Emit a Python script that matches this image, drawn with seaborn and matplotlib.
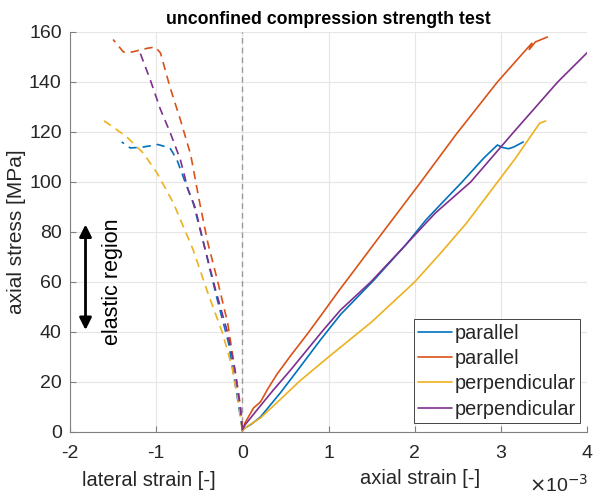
import matplotlib
matplotlib.use("Agg")
import matplotlib.pyplot as plt
import seaborn as sns
import numpy as np
from matplotlib.lines import Line2D

# ---------------- data (strain in units of 1e-3, stress in MPa) ----------------
# axial (solid) curves
ax_blue_x = [0, 0.03, 0.10, 0.21, 0.44, 0.67, 0.91, 1.14, 1.52, 1.90, 2.13, 2.30, 2.55, 2.80, 2.96, 3.02, 3.09, 3.15, 3.26]
ax_blue_y = [0.5, 1.6, 3.0, 6.0, 15.6, 26.0, 37.0, 47.0, 60.5, 75.0, 84.8, 91.0, 100.0, 109.5, 114.8, 113.8, 113.3, 114.0, 116.0]

ax_orange_x = [0, 0.03, 0.13, 0.21, 0.30, 0.40, 0.56, 0.75, 0.91, 1.12, 1.35, 1.60, 2.05, 2.48, 2.96, 3.31, 3.36, 3.33, 3.40, 3.54]
ax_orange_y = [0.5, 3.6, 9.6, 12.0, 17.5, 23.0, 30.5, 39.0, 46.5, 56.5, 67.0, 78.5, 99.0, 119.0, 140.0, 153.6, 155.5, 153.0, 156.0, 158.0]

ax_yellow_x = [0, 0.03, 0.21, 0.44, 0.67, 1.00, 1.50, 2.00, 2.30, 2.60, 2.94, 3.17, 3.37, 3.45, 3.52]
ax_yellow_y = [0.5, 1.6, 5.6, 13.0, 20.5, 30.0, 44.0, 60.0, 71.5, 83.5, 99.0, 109.5, 119.5, 123.5, 124.4]

ax_purple_x = [0, 0.03, 0.17, 0.36, 0.56, 0.75, 0.94, 1.14, 1.49, 1.84, 2.24, 2.65, 3.15, 3.66, 4.01]
ax_purple_y = [1.0, 2.8, 8.8, 16.8, 24.8, 32.8, 40.8, 48.8, 60.0, 72.8, 87.6, 100.0, 120.0, 140.0, 152.0]

# lateral (dashed) curves
lat_blue_x = [0, -0.05, -0.16, -0.29, -0.45, -0.57, -0.66, -0.76, -0.84, -0.98, -1.15, -1.30, -1.40]
lat_blue_y = [1.0, 12.0, 35.6, 52.8, 75.6, 91.6, 99.6, 109.0, 113.6, 115.0, 114.0, 113.6, 116.0]

lat_orange_x = [0, -0.02, -0.08, -0.17, -0.29, -0.40, -0.49, -0.60, -0.72, -0.84, -0.95, -1.01, -1.10, -1.28, -1.38, -1.50]
lat_orange_y = [1.0, 10.0, 23.6, 43.6, 60.8, 75.6, 90.8, 111.0, 125.0, 138.0, 151.6, 154.0, 153.5, 152.0, 152.0, 157.0]

lat_yellow_x = [0, -0.05, -0.12, -0.23, -0.40, -0.57, -0.80, -0.99, -1.15, -1.34, -1.50, -1.63]
lat_yellow_y = [0.5, 12.8, 26.0, 39.6, 55.6, 72.8, 91.6, 103.6, 111.6, 118.0, 122.0, 125.0]

lat_purple_x = [0, -0.02, -0.08, -0.17, -0.31, -0.45, -0.55, -0.63, -0.72, -0.84, -0.95, -1.07, -1.19]
lat_purple_y = [1.0, 8.8, 23.6, 39.6, 56.8, 75.6, 90.0, 97.0, 109.0, 120.0, 129.0, 141.0, 152.0]

legend_labels = ["parallel", "parallel", "perpendicular", "perpendicular"]
colors = ["#0072BD", "#D95319", "#EDB120", "#7E2F8E"]

x_ticks = [-2, -1, 0, 1, 2, 3, 4]
y_ticks = [0, 20, 40, 60, 80, 100, 120, 140, 160]

# ---------------- style ----------------
sns.set_style("ticks")
plt.rcParams["font.family"] = ["Liberation Sans", "DejaVu Sans"]
plt.rcParams["axes.unicode_minus"] = False

W, H = 593, 495
fig = plt.figure(figsize=(W / 100, H / 100), dpi=100)
ax = fig.add_axes([70 / W, 1 - 432 / H, (587 - 70) / W, (432 - 32) / H])

axial = [(ax_blue_x, ax_blue_y), (ax_orange_x, ax_orange_y),
         (ax_yellow_x, ax_yellow_y), (ax_purple_x, ax_purple_y)]
lateral = [(lat_blue_x, lat_blue_y), (lat_orange_x, lat_orange_y),
           (lat_yellow_x, lat_yellow_y), (lat_purple_x, lat_purple_y)]

for (xs, ys), c in zip(lateral, colors):
    sns.lineplot(x=xs, y=ys, sort=False, color=c, lw=1.2, ax=ax,
                 dashes=False, linestyle=(0, (5, 3.5)))
for (xs, ys), c in zip(axial, colors):
    sns.lineplot(x=xs, y=ys, sort=False, color=c, lw=1.2, ax=ax)

ax.axvline(0, color="#9a9a9a", lw=1.0, ls=(0, (4, 3)), zorder=1)

ax.set_xlim(-2, 4)
ax.set_ylim(0, 160)
ax.set_xticks(x_ticks)
ax.set_yticks(y_ticks)
ax.grid(True, color="#e6e6e6", lw=0.8)
ax.set_axisbelow(True)
for s in ["top", "right"]:
    ax.spines[s].set_visible(False)
for s in ["left", "bottom"]:
    ax.spines[s].set_color("#808080")
    ax.spines[s].set_linewidth(0.8)
ax.tick_params(direction="in", length=4, color="#808080", labelsize=14,
               labelcolor="#262626")
ax.tick_params(axis="x", pad=9)
ax.tick_params(axis="y", pad=6)

ax.set_title("unconfined compression strength test", fontsize=12.8,
             fontweight="bold", color="#000000", pad=6)
ax.set_ylabel("axial stress [MPa]", fontsize=15, color="#262626", labelpad=2)

# axis sub-labels
fig.text(149 / W, 1 - 480 / H, "lateral strain [-]", ha="center", va="center",
         fontsize=14.5, color="#262626")
fig.text(420 / W, 1 - 479 / H, "axial strain [-]", ha="center", va="center",
         fontsize=14.5, color="#262626")
fig.text(588 / W, 1 - 485 / H, r"$\times$10$^{-3}$", ha="right", va="center",
         fontsize=14, color="#262626")

# elastic region arrow
ax.annotate("", xy=(-1.82, 83), xytext=(-1.82, 40.8),
            arrowprops=dict(arrowstyle="<|-|>", color="black", lw=2,
                            mutation_scale=18, shrinkA=0, shrinkB=0))
ax.text(-1.51, 60, "elastic region", rotation=90, ha="center", va="center",
        fontsize=15.5, color="#000000")

handles = [Line2D([], [], color=c, lw=1.2) for c in colors]
leg = ax.legend(handles, legend_labels, loc="lower right",
                bbox_to_anchor=(0.986, 0.0225), borderaxespad=0,
                prop={"size": 14.3}, frameon=True, fancybox=False, framealpha=1,
                edgecolor="#262626", handlelength=1.7, handletextpad=0.12,
                labelspacing=0.32, borderpad=0.22)
leg.get_frame().set_linewidth(0.6)

fig.savefig("out.png", dpi=100)
